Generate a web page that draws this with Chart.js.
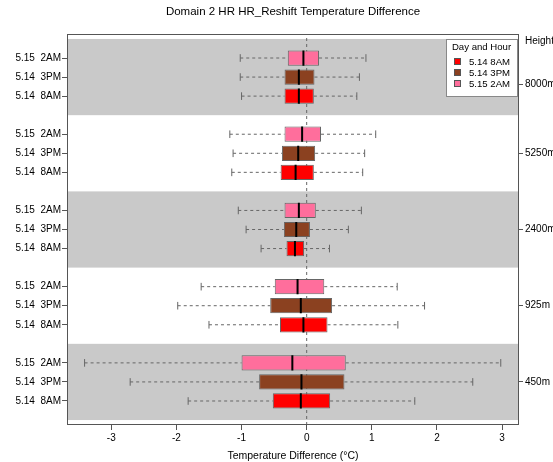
<!DOCTYPE html>
<html>
<head>
<meta charset="utf-8">
<script src="https://cdn.jsdelivr.net/npm/chart.js@4/dist/chart.umd.min.js"></script>
<style>
  html, body { margin: 0; background: #fff; }
</style>
</head>
<body>
<canvas id="chart" width="553" height="462"></canvas>
<script>
// Hours are the three series (bottom row of each group first), heights are the groups bottom-up.
var hours = ['5.14 8AM', '5.14 3PM', '5.15 2AM'];
var heights = ['450m', '925m', '2400m', '5250m', '8000m'];
var colors = ['#ff0000', '#8b4120', '#ff6e9c'];

// One inner array per hour, one value per height (450m .. 8000m).
var whiskerLow = [
    [-1.82, -1.50, -0.70, -1.15, -1.00],
    [-2.71, -1.98, -0.93, -1.13, -1.02],
    [-3.41, -1.62, -1.05, -1.18, -1.02]
];
var boxLow = [
    [-0.52, -0.41, -0.31, -0.40, -0.34],
    [-0.73, -0.56, -0.35, -0.38, -0.34],
    [-1.00, -0.49, -0.34, -0.34, -0.29]
];
var median = [
    [-0.09, -0.05, -0.18, -0.17, -0.12],
    [-0.08, -0.09, -0.16, -0.13, -0.12],
    [-0.22, -0.14, -0.12, -0.07, -0.05]
];
var boxHigh = [
    [0.36, 0.32, -0.04, 0.11, 0.11],
    [0.58, 0.39, 0.05, 0.13, 0.12],
    [0.60, 0.27, 0.14, 0.22, 0.19]
];
var whiskerHigh = [
    [1.66, 1.40, 0.35, 0.86, 0.77],
    [2.55, 1.81, 0.64, 0.89, 0.81],
    [2.98, 1.39, 0.84, 1.06, 0.91]
];

var xTicks = [-3, -2, -1, 0, 1, 2, 3];
var heightTicks = [2, 6, 10, 14, 17.6];   // where the right-hand height labels sit

var xMin = -3.68, xMax = 3.26, yMin = -0.26, yMax = 20.26;
var gap = { x: NaN, y: NaN };
var edge = '#555555';
var family = '"Liberation Sans", Arial, Helvetica, sans-serif';

Chart.defaults.font.family = family;
Chart.defaults.font.size = 10;
Chart.defaults.color = '#000';

// row position of hour h inside height group g (groups are 4 rows apart, one empty row between)
function pos(g, h) { return 4 * g + 1 + h; }

var rowTicks = [], rowLabels = {};
heights.forEach(function (_, g) {
    hours.forEach(function (hr, h) {
        rowTicks.push(pos(g, h));
        rowLabels[pos(g, h)] = hr.replace(' ', '  ');
    });
});

function boxes(h) {
    return heights.map(function (_, g) { return { x: [boxLow[h][g], boxHigh[h][g]], y: pos(g, h) }; });
}
function whiskers(h) {
    var pts = [];
    heights.forEach(function (_, g) {
        var p = pos(g, h);
        pts.push({ x: whiskerLow[h][g], y: p }, { x: boxLow[h][g], y: p }, gap,
                 { x: boxHigh[h][g], y: p }, { x: whiskerHigh[h][g], y: p }, gap);
    });
    return pts;
}
function staples(h) {
    var pts = [];
    heights.forEach(function (_, g) {
        var p = pos(g, h);
        pts.push({ x: whiskerLow[h][g], y: p - 0.2 }, { x: whiskerLow[h][g], y: p + 0.2 }, gap,
                 { x: whiskerHigh[h][g], y: p - 0.2 }, { x: whiskerHigh[h][g], y: p + 0.2 }, gap);
    });
    return pts;
}
function medians(h) {
    var pts = [];
    heights.forEach(function (_, g) {
        var p = pos(g, h);
        pts.push({ x: median[h][g], y: p - 0.4 }, { x: median[h][g], y: p + 0.4 }, gap);
    });
    return pts;
}

function segLine(data, color, width, dash, order) {
    return { type: 'line', data: data, borderColor: color, borderWidth: width, borderDash: dash,
             pointRadius: 0, fill: false, tension: 0, spanGaps: false, order: order };
}

var datasets = [segLine([{ x: 0, y: yMin }, { x: 0, y: yMax }], '#666', 1, [3, 3], 5)];
hours.forEach(function (hr, h) {
    datasets.push(segLine(whiskers(h), '#666', 1, [3, 3], 4));
    datasets.push(segLine(staples(h), '#666', 1, [], 3));
    datasets.push({
        type: 'bar', label: hr, indexAxis: 'y', data: boxes(h),
        backgroundColor: colors[h], borderColor: '#666', borderWidth: 1, borderSkipped: false,
        barPercentage: 0.8, categoryPercentage: 1, grouped: false, order: 1
    });
    datasets.push(segLine(medians(h), '#000', 2, [], 0));
});

// bands, frame, title and the boxed legend in the corner
var decor = {
    id: 'decor',
    beforeDatasetsDraw: function (chart) {
        var a = chart.chartArea, y = chart.scales.y, ctx = chart.ctx;
        ctx.save();
        ctx.fillStyle = '#c9c9c9';
        for (var g = 0; g < heights.length; g += 2) {
            var top = y.getPixelForValue(4 * g + 4), bot = y.getPixelForValue(4 * g);
            ctx.fillRect(a.left, top, a.right - a.left, bot - top);
        }
        ctx.restore();
    },
    afterDraw: function (chart) {
        var a = chart.chartArea, ctx = chart.ctx;
        ctx.save();
        ctx.strokeStyle = edge; ctx.lineWidth = 1;
        ctx.strokeRect(Math.round(a.left) + 0.5, Math.round(a.top) + 0.5,
                       Math.round(a.right - a.left) - 1, Math.round(a.bottom - a.top) - 1);

        ctx.fillStyle = '#000';
        ctx.textBaseline = 'middle';
        ctx.font = '11.5px ' + family;
        ctx.textAlign = 'center';
        ctx.fillText('Domain 2 HR HR_Reshift Temperature Difference', (a.left + a.right) / 2, 12);

        ctx.font = '10px ' + family;
        ctx.textAlign = 'left';
        ctx.fillText('Height', a.right + 6, 41);

        // legend
        var lw = 71, lh = 57, lx = a.right - 2 - lw, ly = a.top + 5;
        ctx.fillStyle = '#fff';
        ctx.fillRect(lx, ly, lw, lh);
        ctx.strokeStyle = '#888';
        ctx.strokeRect(lx + 0.5, ly + 0.5, lw, lh);
        ctx.font = '9.6px ' + family;
        ctx.fillStyle = '#000';
        ctx.textAlign = 'center';
        ctx.fillText('Day and Hour', lx + lw / 2, ly + 8.5);
        ctx.textAlign = 'left';
        hours.forEach(function (hr, h) {
            var ry = ly + 23 + h * 11;
            ctx.fillStyle = colors[h];
            ctx.fillRect(lx + 8, ry - 4, 7, 7);
            ctx.strokeStyle = '#555';
            ctx.strokeRect(lx + 8.5, ry - 3.5, 6, 6);
            ctx.fillStyle = '#000';
            ctx.fillText(hr, lx + 23, ry);
        });
        ctx.restore();
    }
};

function tickGrid(len) {
    return { drawOnChartArea: false, drawTicks: true, tickLength: len, color: edge, offset: false };
}

new Chart(document.getElementById('chart'), {
    type: 'bar',
    data: { datasets: datasets },
    options: {
        responsive: false, animation: false, events: [],
        layout: { padding: { top: 34, left: 0, right: 0, bottom: 0 } },
        plugins: { legend: { display: false }, tooltip: { enabled: false } },
        scales: {
            x: {
                type: 'linear', position: 'bottom', min: xMin, max: xMax, offset: false,
                afterBuildTicks: function (s) { s.ticks = xTicks.map(function (v) { return { value: v }; }); },
                afterFit: function (s) { s.height = 37; },
                grid: tickGrid(5), border: { display: false },
                ticks: { padding: 2, maxRotation: 0, autoSkip: false },
                title: { display: true, text: 'Temperature Difference (°C)', font: { size: 10.5 },
                         padding: { top: 0, bottom: 0 } }
            },
            y: {
                type: 'linear', position: 'left', min: yMin, max: yMax, offset: false,
                afterBuildTicks: function (s) { s.ticks = rowTicks.map(function (v) { return { value: v }; }); },
                afterFit: function (s) { s.width = 67; },
                grid: tickGrid(5), border: { display: false },
                ticks: { padding: 1, autoSkip: false, callback: function (v) { return rowLabels[v]; } }
            },
            y2: {
                type: 'linear', position: 'right', min: yMin, max: yMax, offset: false,
                afterBuildTicks: function (s) { s.ticks = heightTicks.map(function (v) { return { value: v }; }); },
                afterFit: function (s) { s.width = 34; },
                grid: tickGrid(4), border: { display: false },
                ticks: { padding: 2, autoSkip: false,
                         callback: function (v) { return heights[heightTicks.indexOf(v)]; } }
            }
        }
    },
    plugins: [decor]
});
</script>
</body>
</html>
